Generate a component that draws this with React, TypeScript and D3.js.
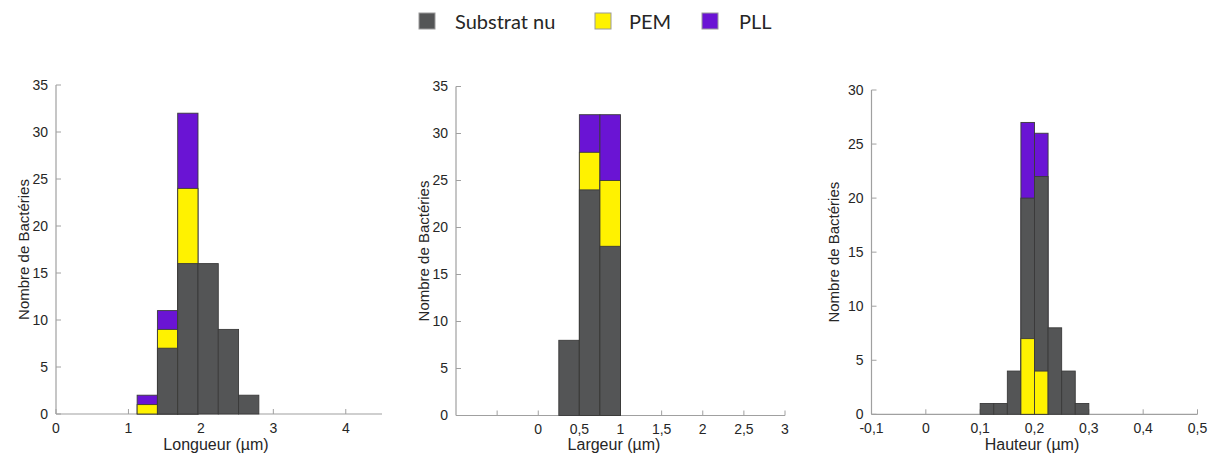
import React from "react";
import * as d3 from "d3";

// ---------- Data ----------
const seriesNames = ["Substrat nu", "PEM", "PLL"];
const seriesColors = ["#545556", "#fff200", "#6a14d4"];

// Longueur (µm) histogram
const lengthBinStarts = [1.12, 1.4, 1.68, 1.96, 2.24, 2.52];
const lengthBinWidth = 0.28;
const lengthSubstrat = [0, 7, 16, 16, 9, 2];
const lengthPEM = [1, 9, 24, 0, 0, 0];
const lengthPLL = [2, 11, 32, 0, 0, 0];
const lengthTicks = [0, 1, 2, 3, 4];
const lengthTickLabels = ["0", "1", "2", "3", "4"];

// Largeur (µm) histogram
const widthBinStarts = [0.25, 0.5, 0.75];
const widthBinWidth = 0.25;
const widthSubstrat = [8, 24, 18];
const widthPEM = [0, 28, 25];
const widthPLL = [0, 32, 32];
const widthTicks = [-0.5, 0, 0.5, 1, 1.5, 2, 2.5, 3];
const widthTickLabels = ["", "0", "0,5", "1", "1,5", "2", "2,5", "3"];

// Hauteur (µm) histogram
const heightBinStarts = [0.1, 0.125, 0.15, 0.175, 0.2, 0.225, 0.25, 0.275];
const heightBinWidth = 0.025;
const heightSubstrat = [1, 1, 4, 20, 22, 8, 4, 1];
const heightPEM = [0, 0, 0, 7, 4, 0, 0, 0];
const heightPLL = [0, 0, 0, 27, 26, 0, 0, 0];
const heightTicks = [-0.1, 0, 0.1, 0.2, 0.3, 0.4, 0.5];
const heightTickLabels = ["-0,1", "0", "0,1", "0,2", "0,3", "0,4", "0,5"];

const countTicks35 = [0, 5, 10, 15, 20, 25, 30, 35];
const countTicks30 = [0, 5, 10, 15, 20, 25, 30];

// ---------- Panel config ----------
type PanelCfg = {
  binStarts: number[];
  binWidth: number;
  series: number[][];
  xDomain: [number, number];
  xRange: [number, number];
  xTicks: number[];
  xTickLabels: string[];
  yMax: number;
  yRange: [number, number];
  yTicks: number[];
  xTitle: string;
  xTitleX: number;
  yTitleX: number;
};

const panels: PanelCfg[] = [
  {
    binStarts: lengthBinStarts,
    binWidth: lengthBinWidth,
    series: [lengthSubstrat, lengthPEM, lengthPLL],
    xDomain: [0, 4.5],
    xRange: [56, 382],
    xTicks: lengthTicks,
    xTickLabels: lengthTickLabels,
    yMax: 35,
    yRange: [414, 85],
    yTicks: countTicks35,
    xTitle: "Longueur (µm)",
    xTitleX: 216,
    yTitleX: 24,
  },
  {
    binStarts: widthBinStarts,
    binWidth: widthBinWidth,
    series: [widthSubstrat, widthPEM, widthPLL],
    xDomain: [-1, 3],
    xRange: [456, 785],
    xTicks: widthTicks,
    xTickLabels: widthTickLabels,
    yMax: 35,
    yRange: [415.5, 86.5],
    yTicks: countTicks35,
    xTitle: "Largeur (µm)",
    xTitleX: 614,
    yTitleX: 424,
  },
  {
    binStarts: heightBinStarts,
    binWidth: heightBinWidth,
    series: [heightSubstrat, heightPEM, heightPLL],
    xDomain: [-0.1, 0.5],
    xRange: [871.5, 1197.5],
    xTicks: heightTicks,
    xTickLabels: heightTickLabels,
    yMax: 30,
    yRange: [414.3, 90],
    yTicks: countTicks30,
    xTitle: "Hauteur (µm)",
    xTitleX: 1032,
    yTitleX: 834,
  },
];

const AXIS = "#a0a0a0";
const TEXT = "#262626";
const FONT = "'Liberation Sans', Arial, sans-serif";

function Panel({ cfg }: { cfg: PanelCfg }) {
  const x = d3.scaleLinear().domain(cfg.xDomain).range(cfg.xRange);
  const y = d3.scaleLinear().domain([0, cfg.yMax]).range(cfg.yRange);
  const x0 = cfg.xRange[0];
  const y0 = cfg.yRange[0];

  const bars: React.ReactNode[] = [];
  cfg.binStarts.forEach((b, i) => {
    const order = cfg.series
      .map((s, si) => ({ v: s[i], si }))
      .filter((d) => d.v > 0)
      .sort((a, b2) => b2.v - a.v);
    order.forEach((d) => {
      const xa = x(b);
      const xb = x(b + cfg.binWidth);
      bars.push(
        <rect
          key={`${i}-${d.si}`}
          x={xa}
          y={y(d.v)}
          width={xb - xa}
          height={y(0) - y(d.v)}
          fill={seriesColors[d.si]}
          stroke="#3a3a3a"
          strokeWidth={0.9}
        />
      );
    });
  });

  return (
    <g>
      <line x1={x0} x2={x0} y1={y(cfg.yMax)} y2={y0} stroke={AXIS} strokeWidth={1.2} />
      <line x1={x0} x2={cfg.xRange[1]} y1={y0} y2={y0} stroke={AXIS} strokeWidth={1.2} />
      {cfg.yTicks.map((t) => (
        <g key={`y${t}`}>
          <line x1={x0} x2={x0 + 5} y1={y(t)} y2={y(t)} stroke={AXIS} strokeWidth={1} />
          <text
            x={x0 - 8}
            y={y(t)}
            dy="0.35em"
            textAnchor="end"
            fontSize={14}
            fontFamily={FONT}
            fill={TEXT}
          >
            {t}
          </text>
        </g>
      ))}
      {cfg.xTicks.map((t, i) => (
        <g key={`x${t}`}>
          <line x1={x(t)} x2={x(t)} y1={y0} y2={y0 - 5} stroke={AXIS} strokeWidth={1} />
          <text
            x={x(t)}
            y={y0 + 14}
            dy="0.35em"
            textAnchor="middle"
            fontSize={14}
            fontFamily={FONT}
            fill={TEXT}
          >
            {cfg.xTickLabels[i]}
          </text>
        </g>
      ))}
      {bars}
      <text
        x={cfg.xTitleX}
        y={444}
        dy="0.35em"
        textAnchor="middle"
        fontSize={16}
        fontFamily={FONT}
        fill={TEXT}
      >
        {cfg.xTitle}
      </text>
      <text
        transform={`translate(${cfg.yTitleX},${(cfg.yRange[0] + cfg.yRange[1]) / 2}) rotate(-90)`}
        dy="0.35em"
        textAnchor="middle"
        fontSize={15}
        fontFamily={FONT}
        fill={TEXT}
      >
        Nombre de Bactéries
      </text>
    </g>
  );
}

const legendSquareX = [419, 595, 702];
const legendTextX = [455, 629, 739];

export default function App() {
  return (
    <svg
      width={1213}
      height={455}
      style={{ position: "absolute", left: 0, top: 0, background: "#fff" }}
    >
      <rect x={0} y={0} width={1213} height={455} fill="#fff" />
      {seriesNames.map((n, i) => (
        <g key={n}>
          <rect
            x={legendSquareX[i]}
            y={13}
            width={16}
            height={16}
            fill={seriesColors[i]}
            stroke="#9a9a9a"
            strokeWidth={1}
          />
          <text
            x={legendTextX[i]}
            y={21.5}
            dy="0.35em"
            fontSize={20}
            fontFamily="Lato, 'Open Sans', sans-serif"
            fill={TEXT}
          >
            {n}
          </text>
        </g>
      ))}
      {panels.map((p, i) => (
        <Panel key={i} cfg={p} />
      ))}
    </svg>
  );
}
